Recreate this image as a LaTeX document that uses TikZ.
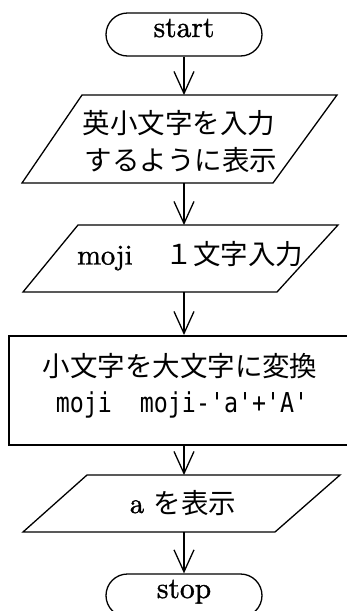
\documentclass[tikz,border=0pt]{standalone}
\usepackage{fontspec}
\newfontfamily\jp{Noto Sans CJK JP}
\newfontfamily\myserif[FakeBold=1.2]{lmroman10-regular.otf}
\newfontfamily\mymono[FakeStretch=0.85]{DejaVu Sans Mono}
\usetikzlibrary{arrows.meta}
\begin{document}
\begin{tikzpicture}[x=1pt,y=-1pt,
  shapeline/.style={line width=1.3pt},
  boxline/.style={line width=1.8pt},
  term/.style={draw,line width=1.3pt,rounded corners=21.5pt,minimum width=156pt,minimum height=43pt,inner sep=0pt,text height=20pt,text depth=15pt,font=\fontsize{29.5}{29}\myserif},
  arr/.style={line width=1.3pt,-{Straight Barb[length=22pt,width=20pt]}},
  txt/.style={inner sep=0pt,anchor=base},
  jpt/.style={txt,font=\fontsize{27.5}{27.5}\jp},
]
\useasboundingbox (0,0) rectangle (347,611);
\clip (0,0) rectangle (347,611);

% start
\node[term] (start) at (184,34.5) {start};

% parallelogram 1
\draw[shapeline] (82,95) -- (337,95) -- (273,183) -- (22,183) -- cycle;
\coordinate (p1top) at (184,95);
\coordinate (p1bot) at (184,183);
\node[jpt] (p1a) at (179,133) {英小文字を入力};
\node[jpt] (p1b) at (181,170) {するように表示};

% parallelogram 2
\draw[shapeline] (78,225) -- (338,225) -- (277,292) -- (23,292) -- cycle;
\coordinate (p2top) at (184,225);
\coordinate (p2bot) at (184,292);
\node[txt,anchor=base west] (p2a) at (77,264.5) {\fontsize{28.5}{30}\myserif moji\hspace{33pt}{\jp\fontsize{27.5}{30}\selectfont １文字入力}};

% process box
\node[draw,boxline,minimum width=352pt,minimum height=109pt,inner sep=0pt,anchor=north west] (proc) at (8,335) {};
\coordinate (prtop) at (184,335);
\coordinate (prbot) at (184,444);
\node[jpt] (pr1) at (180,376) {小文字を大文字に変換};
\node[txt,font=\fontsize{27.4}{28}\mymono] (pr2) at (182,412) {moji\ \ moji-'a'+'A'};

% parallelogram 3
\draw[shapeline] (87,475) -- (340,475) -- (275,532) -- (23,532) -- cycle;
\coordinate (p3top) at (184,475);
\coordinate (p3bot) at (184,532);
\node[txt] (p3a) at (183,513) {\fontsize{28.5}{30}\myserif a {\jp\fontsize{27.5}{30}\selectfont を表示}};

% stop
\node[term] (stop) at (184,595.5) {stop};

% connectors
\draw[arr] (start.south) -- (p1top);
\draw[arr] (p1bot) -- (p2top);
\draw[arr] (p2bot) -- (prtop);
\draw[arr] (prbot) -- (p3top);
\draw[arr] (p3bot) -- (stop.north);
\end{tikzpicture}
\end{document}
